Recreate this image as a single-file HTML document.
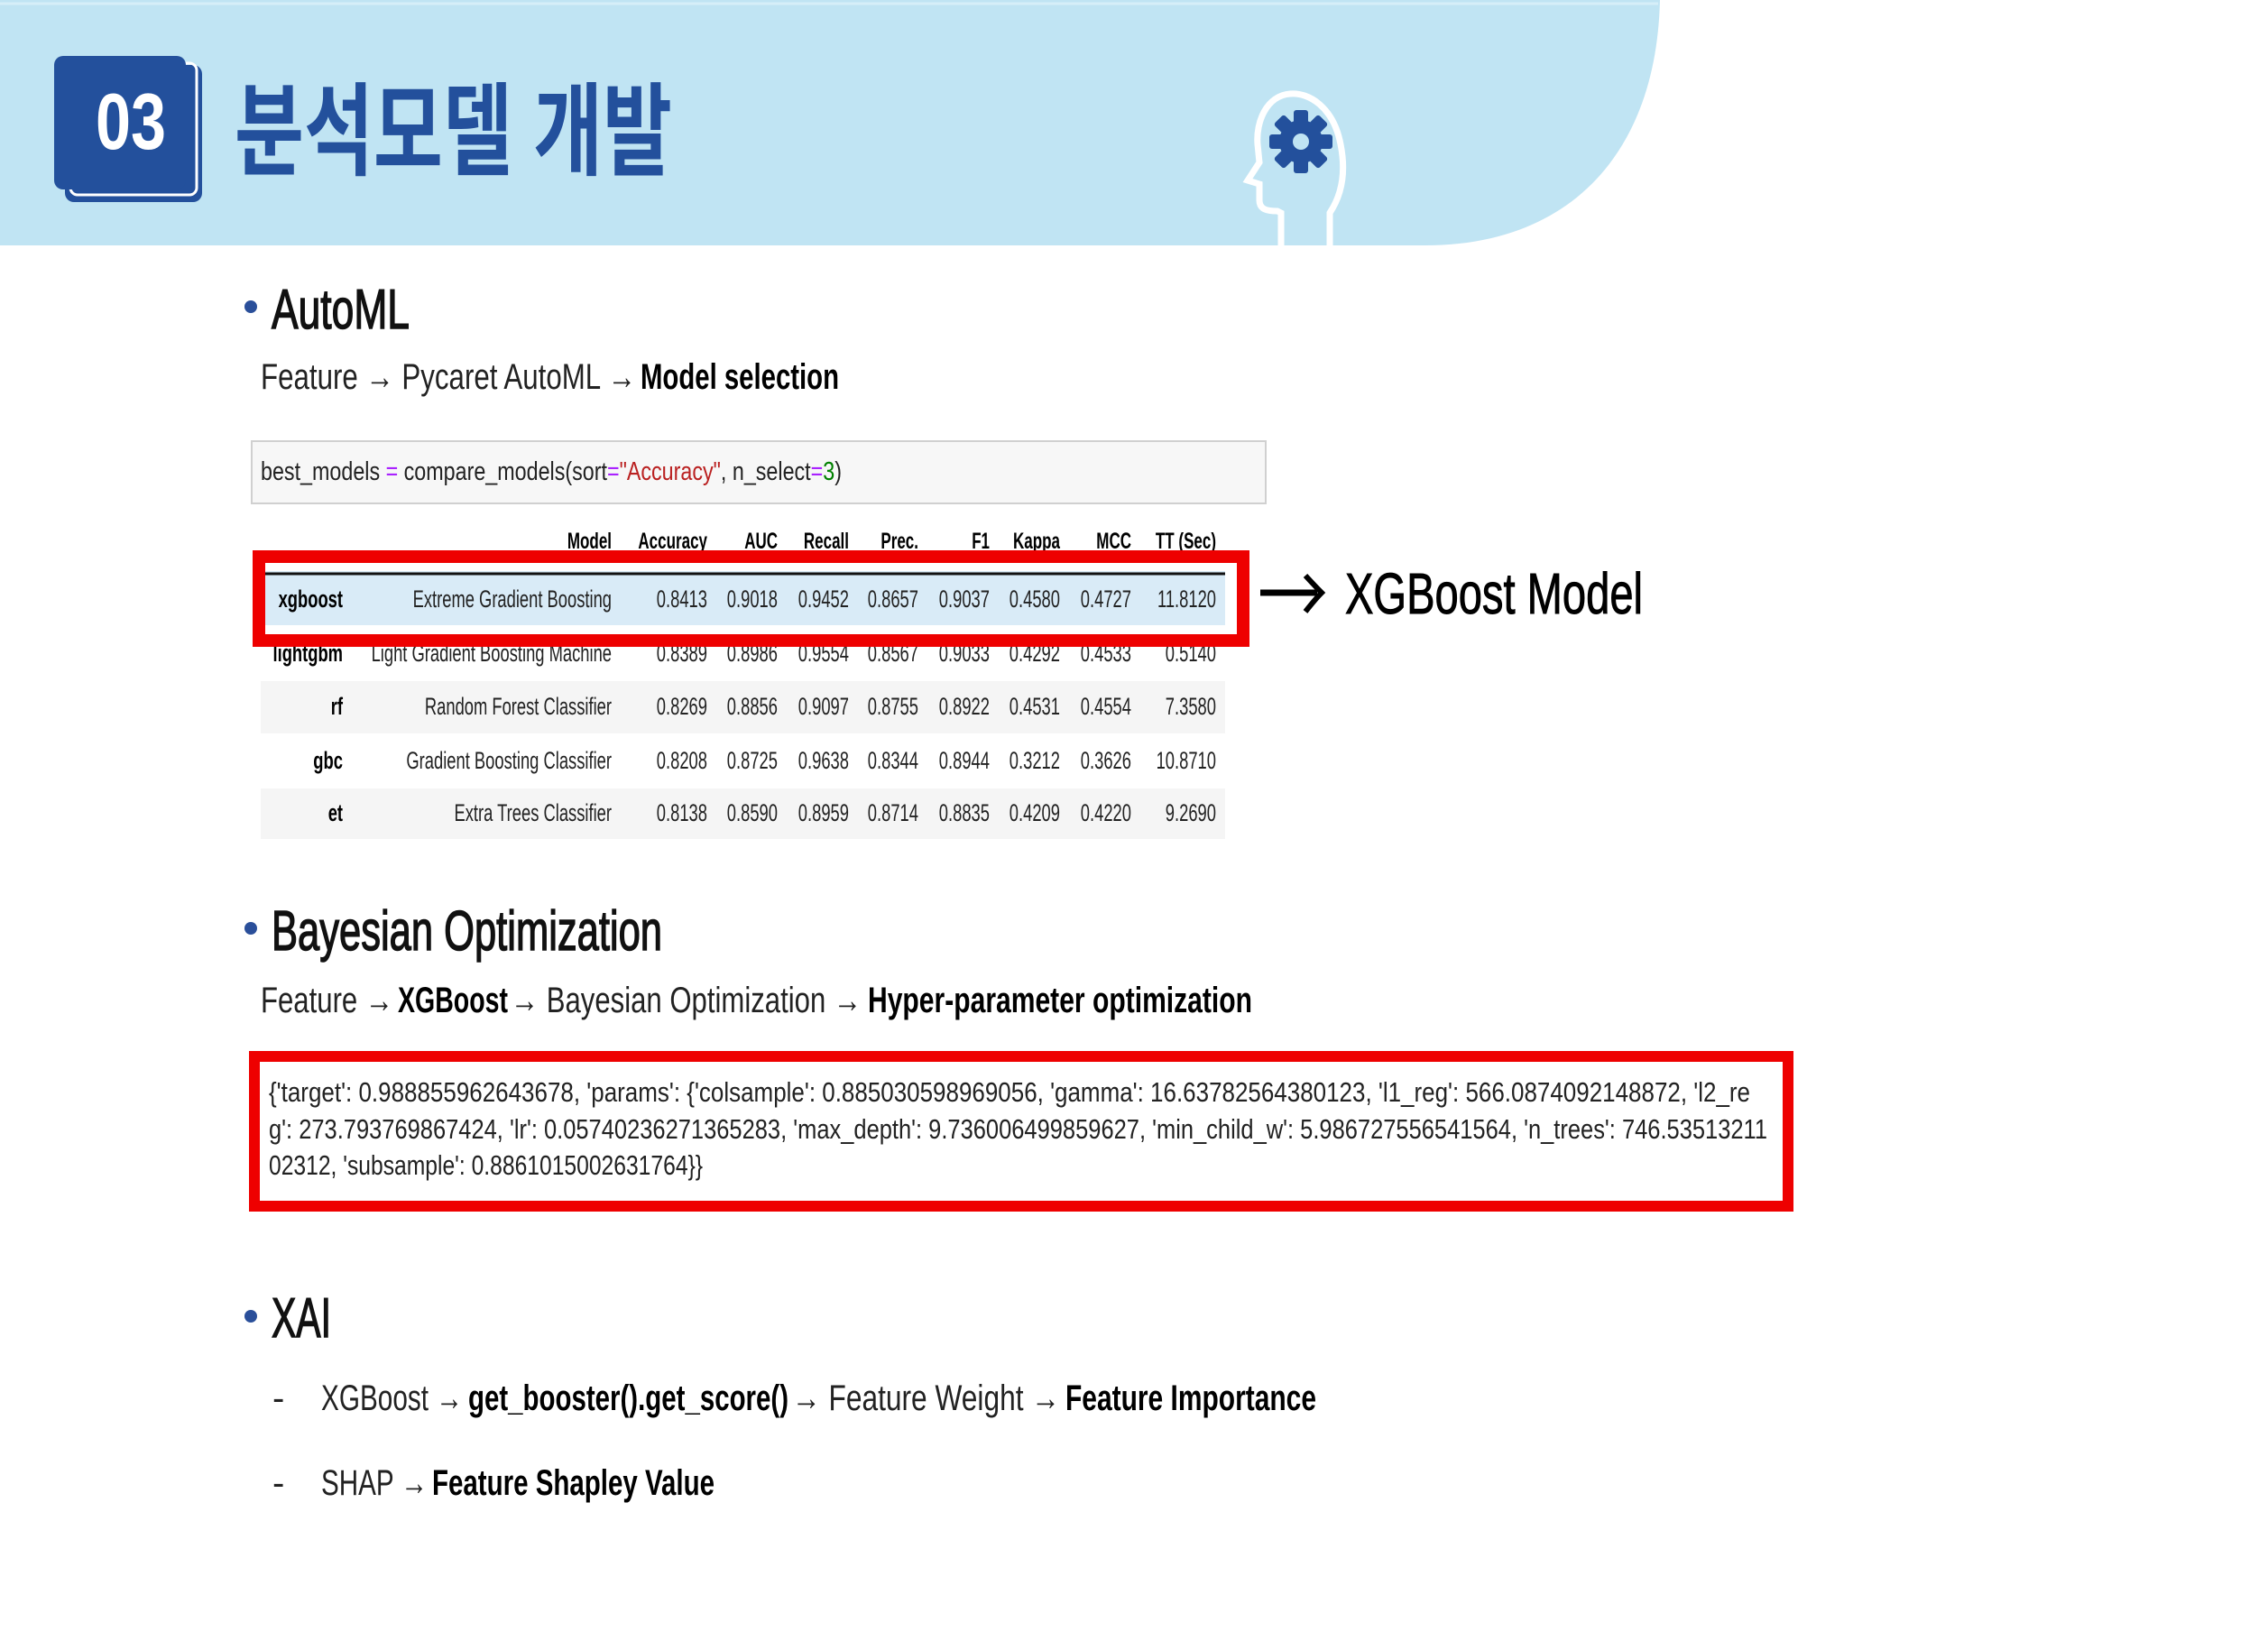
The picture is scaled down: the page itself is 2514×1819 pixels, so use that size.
<!DOCTYPE html>
<html><head><meta charset="utf-8"><style>
html,body{margin:0;padding:0;background:#fff;}
svg{display:block;}
text{font-family:"Liberation Sans","Noto Sans CJK KR",sans-serif;}
</style></head><body>
<svg id="page" width="2514" height="1819" viewBox="0 0 2514 1819" xmlns="http://www.w3.org/2000/svg">
<rect width="2514" height="1819" fill="#fff"/>
<g>
<path d="M0,0 H1840 C1836,170 1740,272 1580,272 H0 Z" fill="#c0e4f3"/>
<line x1="0" y1="4" x2="1838" y2="4" stroke="#d6eef8" stroke-width="3"/>
</g>
<g>
<rect x="72" y="72" width="152" height="152" rx="10" fill="#23509c"/>
<rect x="78" y="70" width="140" height="146" rx="8" fill="none" stroke="#fff" stroke-width="3"/>
<rect x="60" y="62" width="146" height="148" rx="10" fill="#23509c"/>
<text x="145" y="165" font-size="88" font-weight="bold" fill="#fff" text-anchor="middle" textLength="78" lengthAdjust="spacingAndGlyphs">03</text>
</g>
<text x="260" y="185" font-size="112" font-weight="bold" fill="#23509c" textLength="485" lengthAdjust="spacingAndGlyphs">분석모델 개발</text>
<g>
<path d="M1474,272 V236 C1488,215 1492,190 1486,160 C1478,118 1450,102 1430,104 C1404,106 1392,135 1394,160 L1396,180 L1383,200 L1396,204 L1396,222 C1396,232 1404,234 1416,234 L1420,236 V272" fill="none" stroke="#fff" stroke-width="7"/>
<circle cx="1442" cy="157" r="24" fill="#23509c"/>
<g fill="#23509c">
<rect x="1434" y="122" width="16" height="70" rx="3"/>
<rect x="1434" y="122" width="16" height="70" rx="3" transform="rotate(45 1442 157)"/>
<rect x="1434" y="122" width="16" height="70" rx="3" transform="rotate(90 1442 157)"/>
<rect x="1434" y="122" width="16" height="70" rx="3" transform="rotate(135 1442 157)"/>
</g>
<circle cx="1442" cy="157" r="9" fill="#c0e4f3"/>
</g>

<circle cx="278" cy="340" r="7" fill="#2a4f9a"/>
<text x="301" y="364" font-size="62" fill="#111" stroke="#111" stroke-width="1.5" textLength="153" lengthAdjust="spacingAndGlyphs">AutoML</text>
<g font-size="40" fill="#222">
<text x="289" y="431" textLength="416" lengthAdjust="spacingAndGlyphs">Feature → Pycaret AutoML →</text>
<text x="710" y="431" font-weight="bold" fill="#000" textLength="220" lengthAdjust="spacingAndGlyphs">Model selection</text>
</g>

<g>
<rect x="279" y="489" width="1124" height="69" fill="#f7f7f7" stroke="#d0d0d0" stroke-width="2"/>
<text x="289" y="532" font-size="29" font-family="Liberation Mono,monospace" fill="#222" textLength="644" lengthAdjust="spacingAndGlyphs">best_models <tspan fill="#aa22ff">=</tspan> compare_models(sort<tspan fill="#aa22ff">=</tspan><tspan fill="#ba2121">"Accuracy"</tspan>, n_select<tspan fill="#aa22ff">=</tspan><tspan fill="#008000">3</tspan>)</text>
</g>

<g id="table">
<rect x="289" y="633" width="1069" height="60" fill="#d9ebf7"/>
<line x1="289" y1="636" x2="1358" y2="636" stroke="#111" stroke-width="3"/>
<rect x="289" y="755" width="1069" height="58" fill="#f5f5f5"/>
<rect x="289" y="874" width="1069" height="56" fill="#f5f5f5"/>
</g>

<rect x="287" y="617" width="1091" height="93" fill="none" stroke="#ee0000" stroke-width="14"/>
<path d="M1397,657 H1460" stroke="#000" stroke-width="7"/>
<path d="M1447,638 Q1458,650 1465,657 Q1458,664 1447,678" stroke="#000" stroke-width="6" fill="none"/>
<text x="1491" y="680" font-size="64" fill="#000" stroke="#000" stroke-width="1" textLength="330" lengthAdjust="spacingAndGlyphs">XGBoost Model</text>

<circle cx="278" cy="1029" r="7" fill="#2a4f9a"/>
<text x="301" y="1053" font-size="62" fill="#111" stroke="#111" stroke-width="1.5" textLength="433" lengthAdjust="spacingAndGlyphs">Bayesian Optimization</text>
<g font-size="40" fill="#222">
<text x="289" y="1122" textLength="147" lengthAdjust="spacingAndGlyphs">Feature →</text>
<text x="441" y="1122" font-weight="bold" fill="#000" textLength="122" lengthAdjust="spacingAndGlyphs">XGBoost</text>
<text x="566" y="1122" textLength="389" lengthAdjust="spacingAndGlyphs">→ Bayesian Optimization →</text>
<text x="962" y="1122" font-weight="bold" fill="#000" textLength="426" lengthAdjust="spacingAndGlyphs">Hyper-parameter optimization</text>
</g>
<g font-size="31" font-family="Liberation Mono,monospace" fill="#222">
<text x="298" y="1221" textLength="1642" lengthAdjust="spacingAndGlyphs">{'target': 0.988855962643678, 'params': {'colsample': 0.885030598969056, 'gamma': 16.63782564380123, 'l1_reg': 566.0874092148872, 'l2_re</text>
<text x="298" y="1262" textLength="1661" lengthAdjust="spacingAndGlyphs">g': 273.793769867424, 'lr': 0.05740236271365283, 'max_depth': 9.736006499859627, 'min_child_w': 5.986727556541564, 'n_trees': 746.53513211</text>
<text x="298" y="1302" textLength="481" lengthAdjust="spacingAndGlyphs">02312, 'subsample': 0.8861015002631764}}</text>
</g>
<rect x="282" y="1171" width="1700" height="166" fill="none" stroke="#ee0000" stroke-width="12"/>

<circle cx="278" cy="1459" r="7" fill="#2a4f9a"/>
<text x="301" y="1482" font-size="62" fill="#111" stroke="#111" stroke-width="1.5" textLength="66" lengthAdjust="spacingAndGlyphs">XAI</text>
<g font-size="40" fill="#222">
<text x="302" y="1563">-</text>
<text x="356" y="1563" textLength="157" lengthAdjust="spacingAndGlyphs">XGBoost →</text>
<text x="519" y="1563" font-weight="bold" fill="#000" textLength="355" lengthAdjust="spacingAndGlyphs">get_booster().get_score()</text>
<text x="878" y="1563" textLength="297" lengthAdjust="spacingAndGlyphs">→ Feature Weight →</text>
<text x="1181" y="1563" font-weight="bold" fill="#000" textLength="278" lengthAdjust="spacingAndGlyphs">Feature Importance</text>
</g>
<g font-size="40" fill="#222">
<text x="302" y="1657">-</text>
<text x="356" y="1657" textLength="118" lengthAdjust="spacingAndGlyphs">SHAP →</text>
<text x="479" y="1657" font-weight="bold" fill="#000" textLength="313" lengthAdjust="spacingAndGlyphs">Feature Shapley Value</text>
</g>
</svg>
<script>
const headers = ["Model","Accuracy","AUC","Recall","Prec.","F1","Kappa","MCC","TT (Sec)"];
const rowIds = ["xgboost","lightgbm","rf","gbc","et"];
const modelNames = ["Extreme Gradient Boosting","Light Gradient Boosting Machine","Random Forest Classifier","Gradient Boosting Classifier","Extra Trees Classifier"];
const accuracy = ["0.8413","0.8389","0.8269","0.8208","0.8138"];
const auc = ["0.9018","0.8986","0.8856","0.8725","0.8590"];
const recall = ["0.9452","0.9554","0.9097","0.9638","0.8959"];
const prec = ["0.8657","0.8567","0.8755","0.8344","0.8714"];
const f1 = ["0.9037","0.9033","0.8922","0.8944","0.8835"];
const kappa = ["0.4580","0.4292","0.4531","0.3212","0.4209"];
const mcc = ["0.4727","0.4533","0.4554","0.3626","0.4220"];
const tt = ["11.8120","0.5140","7.3580","10.8710","9.2690"];
const NS="http://www.w3.org/2000/svg";
const tbl=document.getElementById('table');
const colRight=[678,784,862,941,1018,1097,1175,1254,1348];
const rowBase=[673,733,792,852,910];
const SQ=0.68;
function mk(x,y,s,bold,size,fill){
  const t=document.createElementNS(NS,'text');
  t.setAttribute('x',x);t.setAttribute('y',y);t.setAttribute('text-anchor','end');
  t.setAttribute('font-size',size);t.setAttribute('fill',fill);
  if(bold)t.setAttribute('font-weight','bold');
  t.textContent=s;tbl.appendChild(t);
  const w=t.getComputedTextLength();
  t.setAttribute('textLength',(w*SQ).toFixed(1));
  t.setAttribute('lengthAdjust','spacingAndGlyphs');
  return t;
}
headers.forEach((h,i)=>{
  const t=mk(colRight[i],608,h,true,25,'#000');
  
  
});
const cols=[modelNames,accuracy,auc,recall,prec,f1,kappa,mcc,tt];
rowIds.forEach((id,r)=>{
  const t=mk(380,rowBase[r],id,true,27,'#000');
  
  
  cols.forEach((c,i)=>{
    const v=mk(colRight[i],rowBase[r],c[r],false,27,'#222');
    
    
  });
});
</script>
</body></html>
